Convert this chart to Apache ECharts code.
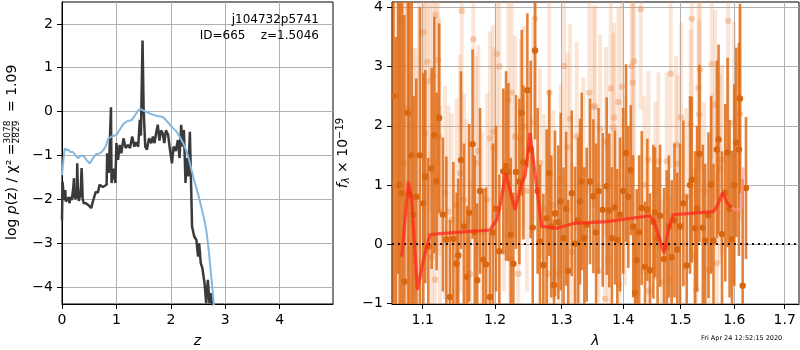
<!DOCTYPE html>
<html>
<head>
<meta charset="utf-8">
<script src="https://cdn.jsdelivr.net/npm/echarts@6/dist/echarts.min.js"></script>
<style>
  html, body { margin: 0; padding: 0; background: #fff; }
  #chart { width: 800px; height: 350px; }
</style>
</head>
<body>
<div id="chart"></div>
<script>
// ---- left panel: redshift probability ----
const zPz = [0.00, 0.01, 0.02, 0.03, 0.05, 0.06, 0.07, 0.09, 0.11, 0.12, 0.14, 0.15, 0.17, 0.18, 0.20, 0.21, 0.22, 0.23, 0.25, 0.26,
  0.27, 0.28, 0.29, 0.31, 0.33, 0.34, 0.36, 0.37, 0.38, 0.40, 0.44, 0.48,
  0.51, 0.54, 0.57, 0.62, 0.66, 0.69, 0.75, 0.82, 0.83, 0.86, 0.90, 0.91, 0.95, 0.98, 1.00, 1.03, 1.06, 1.09, 1.13, 1.17,
  1.21, 1.25, 1.29, 1.33, 1.36, 1.40, 1.43, 1.45, 1.48, 1.50, 1.53, 1.56, 1.60, 1.64, 1.67, 1.70, 1.73, 1.76, 1.79, 1.82,
  1.85, 1.88, 1.91, 1.95, 1.98, 2.02, 2.05, 2.09, 2.13, 2.16, 2.19, 2.22, 2.24, 2.27, 2.29, 2.32, 2.35, 2.37, 2.39, 2.43,
  2.47, 2.50, 2.52, 2.55, 2.58, 2.60, 2.62, 2.65, 2.68, 2.71, 2.74, 2.77];
const logPz = [-2.48, -1.60, -1.75, -2.02, -1.85, -1.79, -2.05, -2.08, -2.00, -1.95, -2.09, -2.00, -1.95, -2.02, -2.00, -1.70, -1.52, -1.95, -2.00, -1.80,
  -1.98, -1.18, -1.70, -2.04, -1.90, -1.95, -1.29, -1.60, -2.00, -2.09, -2.09, -2.13,
  -2.10, -2.20, -2.04, -1.83, -1.85, -1.67, -1.72, -1.67, -0.95, -1.40, 0.10, -1.63, -1.30, -1.63, -0.72, -1.10, -0.76, -0.95, -0.61, -0.83,
  -0.76, -0.83, -0.57, -0.80, -0.70, -0.80, -0.19, -0.55, 1.62, 0.05, -0.80, -0.87, -0.61, -0.72, -0.57, -0.72, -0.49, -0.30, -0.66, -0.43,
  -0.49, -0.72, -0.43, -0.53, -0.83, -1.18, -0.80, -0.90, -0.65, -1.06, -0.30, -0.80, -0.42, -1.63, -1.06, -1.48, -0.46, -1.55, -2.62, -2.85,
  -2.93, -3.31, -3.00, -3.46, -3.57, -3.60, -3.92, -4.37, -3.84, -4.37, -4.14, -4.50];
const zChi = [0.00, 0.03, 0.05, 0.08, 0.11, 0.15, 0.20, 0.25, 0.30, 0.35, 0.40, 0.45, 0.51, 0.56, 0.63, 0.70, 0.80, 0.85, 0.91, 1.00,
  1.12, 1.20, 1.28, 1.36, 1.43, 1.50, 1.61, 1.75, 1.86, 1.95, 2.01, 2.10, 2.16, 2.25, 2.32, 2.41, 2.53, 2.65, 2.72, 2.79, 2.82];
const logChi = [-1.45, -1.05, -0.84, -0.88, -0.86, -0.92, -0.92, -1.00, -1.06, -1.00, -1.02, -1.10, -1.18, -1.08, -0.97, -0.95, -0.80, -0.62, -0.57, -0.53,
  -0.30, -0.22, -0.19, -0.05, 0.06, 0.02, -0.04, -0.10, -0.13, -0.25, -0.34, -0.45, -0.57, -0.78, -1.03, -1.48, -2.02, -2.70, -3.46, -4.39, -4.80];
const zTicks = [0, 1, 2, 3, 4];
const pzTicks = [-4, -3, -2, -1, 0, 1, 2];

// ---- right panel: spectrum (microns, 1e-19 flux) ----
const waveHi = [1.062, 1.065, 1.068, 1.070, 1.073, 1.076, 1.0805, 1.0825, 1.0855, 1.088, 1.0915, 1.0964, 1.1008, 1.1034, 1.1074, 1.1119, 1.1154, 1.1186, 1.1220, 1.127,
  1.1317, 1.1367, 1.1413, 1.1458, 1.1480, 1.1518, 1.156, 1.1604, 1.1632, 1.1680, 1.171, 1.1745, 1.1785, 1.1832, 1.1870, 1.1927, 1.197, 1.2014, 1.2062, 1.2120,
  1.2160, 1.2194, 1.2229, 1.2267, 1.2306, 1.2356, 1.2391, 1.2416, 1.2475, 1.2525, 1.2556, 1.2591, 1.263, 1.2666, 1.2717, 1.2768, 1.2808, 1.284, 1.2882, 1.2897,
  1.2949, 1.2986, 1.303, 1.307, 1.3103, 1.3159, 1.3212, 1.326, 1.3291, 1.3318, 1.336, 1.3398, 1.3452, 1.3506, 1.355, 1.359, 1.3658, 1.3724, 1.3767, 1.381,
  1.3862, 1.3900, 1.3946, 1.400, 1.4047, 1.4086, 1.4127, 1.417, 1.4200, 1.4229, 1.427, 1.4315, 1.4372, 1.4412, 1.4458, 1.4516, 1.4545, 1.459, 1.4633, 1.4704,
  1.4751, 1.479, 1.4840, 1.489, 1.4939, 1.4989, 1.5049, 1.5110, 1.5171, 1.5202, 1.5263, 1.530, 1.5343, 1.5406, 1.5449, 1.5511, 1.556, 1.5605, 1.5669, 1.5700,
  1.5765, 1.5828, 1.5872, 1.591, 1.5956, 1.600, 1.6039, 1.6090, 1.6110, 1.6162, 1.6227];
const fluxHi = [2.5, -1.5, 4.5, 1.0, 0.86, -0.63, 2.22, 0.84, 1.5, 0.50, 0.8, 1.5, 0.69, 1.14, -0.04, 1.28, 1.84, 1.06, 2.13, 0.5,
  0.08, -0.89, 0.09, -0.33, -0.19, 1.42, 0.3, -0.55, 0.53, 1.69, 0.2, -0.61, 0.9, -0.26, -0.34, -0.89, 0.2, 0.6, -0.12, 1.23,
  1.32, 1.22, 0.16, -0.33, 1.22, 1.06, 2.22, 1.38, 2.60, 1.60, 0.28, 3.27, 0.9, 0.04, -0.35, 0.44, 1.20, 0.3, -0.69, 0.52,
  0.37, 0.72, 0.1, 0.6, -0.45, 0.86, 0.01, 0.4, 0.72, 1.06, 0.1, 0.33, 1.06, 0.81, 0.2, 0.9, 0.58, 0.98, 0.57, 0.1,
  0.62, 0.07, 0.5, 0.9, 1.54, 0.80, 1.25, 0.3, -0.82, -0.27, 0.2, 0.61, -0.38, 0.58, -0.44, 0.38, 0.54, 0.1, 0.48, -0.25,
  -0.05, 0.3, -0.22, 0.4, -0.09, 0.3, 0.69, -0.36, 1.00, 1.09, 0.27, 0.6, 1.53, 0.28, 0.06, 0.49, 1.0, 0.06, 1.60, 1.77,
  0.17, 0.87, 1.55, 0.6, 0.08, 1.0, 1.72, 1.60, 2.46, -0.70, 0.95];
const errHi = [4, 5, 5, 4, 3.5, 4.5, 4, 3.5, 3, 2, 2, 2.5, 2.2, 1.8, 1.5, 1.7, 2.0, 1.5, 1.6, 1.3,
  1.4, 1.3, 1.3, 1.2, 1.3, 1.5, 1.4, 1.2, 1.5, 1.6, 1.3, 1.3, 1.4, 1.2, 1.3, 1.1, 1.5, 1.4, 1.3, 1.4,
  1.6, 1.5, 1.3, 1.2, 1.3, 1.4, 1.4, 1.3, 1.3, 1.5, 1.3, 1.5, 1.4, 1.3, 1.2, 1.5, 1.4, 1.2, 1.1, 1.4,
  1.3, 1.5, 1.2, 1.3, 1.2, 1.4, 1.3, 1.4, 1.4, 1.5, 1.2, 1.3, 1.4, 1.3, 1.5, 1.4, 1.3, 1.5, 1.3, 1.2,
  1.3, 1.2, 1.3, 1.4, 1.5, 1.2, 1.1, 1.2, 1.1, 1.2, 1.3, 1.3, 1.1, 1.2, 1.3, 1.3, 1.1, 1.2, 1.2, 1.2,
  1.3, 1.2, 1.3, 1.3, 1.3, 1.4, 1.4, 1.2, 1.5, 1.4, 1.3, 1.4, 1.5, 1.4, 1.3, 1.4, 1.5, 1.3, 1.5, 1.6,
  1.4, 1.5, 1.6, 1.5, 1.5, 1.7, 1.6, 1.8, 1.6, 1.8, 1.2];

const waveLo = [1.061, 1.067, 1.0724, 1.0751, 1.079, 1.0877, 1.0912, 1.095, 1.1008, 1.1030, 1.1061, 1.1097, 1.1119, 1.1141, 1.1163, 1.1172, 1.1207, 1.1220, 1.1231, 1.1298,
  1.1343, 1.1388, 1.1458, 1.1505, 1.1528, 1.1560, 1.1598, 1.1644, 1.1691, 1.1728, 1.1760, 1.181, 1.1887, 1.1927, 1.1966, 1.1975, 1.2024, 1.2062, 1.213, 1.2194,
  1.2218, 1.2243, 1.2291, 1.2340, 1.2376, 1.2416, 1.247, 1.2565, 1.2591, 1.2666, 1.273, 1.2793, 1.2808, 1.2871, 1.2949, 1.299, 1.3038, 1.3090, 1.3132, 1.3159,
  1.3238, 1.327, 1.3345, 1.3441, 1.3506, 1.3533, 1.3587, 1.3614, 1.3697, 1.3713, 1.3751, 1.3791, 1.3835, 1.3846, 1.3919, 1.393, 1.3976, 1.403, 1.4144, 1.4161,
  1.4184, 1.4298, 1.436, 1.4430, 1.444, 1.455, 1.4604, 1.4662, 1.4751, 1.4810, 1.4822, 1.4918, 1.4941, 1.5007, 1.510, 1.5183, 1.5202, 1.5263, 1.5282, 1.5325,
  1.534, 1.5354, 1.543, 1.5511, 1.5574, 1.558, 1.5634, 1.5669, 1.5728, 1.5765, 1.5883, 1.5995, 1.6110];
const fluxLo = [1.0, 2.5, 3.80, 1.37, 2.3, 0.81, 0.81, 1.5, 3.58, 1.87, 3.08, 2.76, -0.22, 2.85, -0.60, 3.87, 3.11, 1.81, 0.55, 0.87,
  0.55, 0.41, 0.66, 1.20, 3.94, 0.75, 0.41, -0.50, 3.46, 1.37, 1.57, 0.2, 0.75, 1.79, 1.90, 1.63, 3.21, 3.00, 0.9, 2.43,
  -0.25, 2.56, 1.82, -0.50, 1.77, 1.99, 0.9, 2.06, 3.81, 1.37, 0.6, -0.50, 2.56, 0.66, -0.50, 1.1, 3.01, 1.64, 2.12, -0.13,
  1.82, 0.4, 1.22, 2.56, 2.32, 2.33, -0.45, 1.94, -0.92, 1.73, -0.25, 2.63, 1.97, 2.14, 2.40, -0.68, 2.66, 0.9, 3.01, 2.73,
  3.09, 3.97, 1.0, 1.43, -0.79, 0.9, 1.40, -0.64, 1.40, -0.59, 2.88, 1.68, 1.36, 2.14, 0.8, 2.03, 3.81, -0.20, -0.76, 2.64,
  2.19, 2.95, 0.9, -0.43, 3.04, 1.04, 2.36, -0.32, 1.28, 1.42, 3.77, 2.05, 2.20];
const errLo = [4, 4, 3, 3, 3, 2.5, 2.5, 2.8, 2.5, 2.2, 2.3, 2.2, 2, 2.0, 2, 2.2, 2.0, 2.0, 1.8, 1.8,
  1.8, 1.8, 1.8, 2.0, 2.0, 1.8, 1.7, 1.6, 1.8, 1.8, 1.8, 1.7, 1.8, 1.8, 1.8, 1.7, 1.8, 1.8, 1.7, 1.7,
  1.6, 1.7, 1.7, 1.6, 1.7, 1.7, 1.7, 1.7, 1.7, 1.6, 1.6, 1.5, 1.7, 1.6, 1.6, 1.6, 1.7, 1.6, 1.6, 1.5,
  1.6, 1.5, 1.6, 1.7, 1.7, 1.7, 1.5, 1.6, 1.5, 1.6, 1.5, 1.6, 1.6, 1.6, 1.6, 1.5, 1.6, 1.6, 1.6, 1.6,
  1.6, 1.7, 1.5, 1.5, 1.4, 1.5, 1.5, 1.4, 1.5, 1.4, 1.6, 1.5, 1.5, 1.6, 1.5, 1.6, 1.6, 1.5, 1.4, 1.6,
  1.6, 1.7, 1.5, 1.5, 1.6, 1.5, 1.6, 1.5, 1.6, 1.6, 1.7, 1.7, 1.8];

const waveModel = [1.0726, 1.0811, 1.0855, 1.0929, 1.1008, 1.1097, 1.1231, 1.1927, 1.2024, 1.2062, 1.2154, 1.2291, 1.2391, 1.2441, 1.2515, 1.2590, 1.2692, 1.2923, 1.3184, 1.3724,
  1.4458, 1.4519, 1.4632, 1.4703, 1.4777, 1.4868, 1.5170, 1.5602, 1.5681, 1.5778, 1.5867, 1.5950];
const fluxModel = [-0.21, 1.06, 0.75, -0.77, -0.27, 0.16, 0.18, 0.24, 0.41, 0.58, 1.20, 0.58, 1.03, 1.15, 1.88, 1.20, 0.30, 0.27, 0.35, 0.38,
  0.48, 0.41, 0.07, -0.15, 0.24, 0.50, 0.52, 0.55, 0.66, 0.87, 0.69, 0.62];
const waveTail = [1.5950, 1.6014, 1.6134, 1.6177];
const fluxTail = [0.62, 0.58, 0.60, 1.30];
const waveTicks = [1.1, 1.2, 1.3, 1.4, 1.5, 1.6, 1.7];
const fluxTicks = [-1, 0, 1, 2, 3, 4];

const chart = echarts.init(document.getElementById("chart"));

const FONT = "DejaVu Sans";
const GRID_LINE = "#b0b0b0";
const minus = (v) => String(v).replace("-", "\u2212");
const zip = (xs, ys) => xs.map((x, i) => [x, ys[i]]);
const lnZip = (xs, ys) => xs.map((x, i) => [Math.log(x), ys[i]]);

const errorBars = (barColor, dotColor, barWidth, r) => (params, api) => {
  const x = api.value(0);
  const y = api.value(1);
  const e = api.value(2);
  const lo = api.coord([x, y - e]);
  const hi = api.coord([x, y + e]);
  const c = api.coord([x, y]);
  return {
    type: "group",
    children: [
      { type: "line", shape: { x1: lo[0], y1: lo[1], x2: hi[0], y2: hi[1] }, style: { stroke: barColor, lineWidth: barWidth } },
      { type: "circle", shape: { cx: c[0], cy: c[1], r: r }, style: { fill: dotColor } },
    ],
  };
};

const baseAxis = {
  axisLine: { show: true, onZero: false, lineStyle: { color: "#000", width: 1 } },
  axisTick: { show: true, inside: false, length: 5, lineStyle: { color: "#000" } },
  axisLabel: { color: "#000", fontSize: 14, fontFamily: FONT, margin: 9 },
  splitLine: { show: true, lineStyle: { color: GRID_LINE, width: 1 } },
  nameTextStyle: { color: "#000", fontSize: 14, fontFamily: FONT },
};

const option = {
  animation: false,
  backgroundColor: "#fff",
  grid: [
    { left: 62, top: 2, width: 271, height: 302, outerBoundsMode: "none", containLabel: false, show: true, borderColor: "#000", borderWidth: 1, backgroundColor: "transparent" },
    { left: 392, top: 2, width: 407, height: 302, outerBoundsMode: "none", containLabel: false, show: true, borderColor: "#000", borderWidth: 1, backgroundColor: "transparent" },
  ],
  xAxis: [
    {
      ...baseAxis,
      gridIndex: 0,
      type: "value",
      min: 0,
      max: 4.98,
      axisTick: { ...baseAxis.axisTick, customValues: zTicks },
      axisLabel: { ...baseAxis.axisLabel, customValues: zTicks },
      name: "z",
      nameLocation: "middle",
      nameGap: 30,
      nameTextStyle: { ...baseAxis.nameTextStyle, fontStyle: "italic" },
    },
    {
      ...baseAxis,
      gridIndex: 1,
      type: "value",
      min: Math.log(1.0601),
      max: Math.log(1.7295),
      axisTick: { ...baseAxis.axisTick, customValues: waveTicks.map(Math.log) },
      axisLabel: { ...baseAxis.axisLabel, customValues: waveTicks.map(Math.log), formatter: (v) => Math.exp(v).toFixed(1) },
      name: "λ",
      nameLocation: "middle",
      nameGap: 30,
      nameTextStyle: { ...baseAxis.nameTextStyle, fontStyle: "italic" },
    },
  ],
  yAxis: [
    {
      ...baseAxis,
      gridIndex: 0,
      type: "value",
      min: -4.39,
      max: 2.5,
      axisTick: { ...baseAxis.axisTick, customValues: pzTicks },
      axisLabel: { ...baseAxis.axisLabel, customValues: pzTicks, formatter: minus },
    },
    {
      ...baseAxis,
      gridIndex: 1,
      type: "value",
      min: -1.01,
      max: 4.09,
      axisTick: { ...baseAxis.axisTick, customValues: fluxTicks },
      axisLabel: { ...baseAxis.axisLabel, customValues: fluxTicks, formatter: minus },
      name: "{i|f}{s|λ} × 10{p|\u221219}",
      nameLocation: "middle",
      nameRotate: 90,
      nameGap: 38,
      nameTextStyle: {
        ...baseAxis.nameTextStyle,
        rich: {
          i: { fontSize: 14, fontFamily: FONT, fontStyle: "italic", color: "#000" },
          s: { fontSize: 10, fontFamily: FONT, fontStyle: "italic", color: "#000", verticalAlign: "bottom", padding: [6, 0, 0, 0] },
          p: { fontSize: 10, fontFamily: FONT, color: "#000", verticalAlign: "top", padding: [0, 0, 6, 0] },
        },
      },
    },
  ],
  series: [
    {
      name: "p(z)",
      type: "line",
      xAxisIndex: 0,
      yAxisIndex: 0,
      data: zip(zPz, logPz),
      showSymbol: false,
      clip: true,
      lineStyle: { color: "#3a3a3a", width: 2.5 },
      z: 3,
    },
    {
      name: "chi2",
      type: "line",
      xAxisIndex: 0,
      yAxisIndex: 0,
      data: zip(zChi, logChi),
      showSymbol: false,
      clip: true,
      smooth: 0.2,
      lineStyle: { color: "#86b7dd", width: 2 },
      z: 4,
    },
    {
      name: "low weight",
      type: "custom",
      xAxisIndex: 1,
      yAxisIndex: 1,
      clip: true,
      renderItem: errorBars("rgba(240,155,95,0.26)", "rgba(232,150,95,0.45)", 4, 3.2),
      data: waveLo.map((w, i) => [Math.log(w), fluxLo[i], errLo[i]]),
      z: 2,
    },
    {
      name: "spectrum",
      type: "custom",
      xAxisIndex: 1,
      yAxisIndex: 1,
      clip: true,
      renderItem: errorBars("rgba(222,108,24,0.85)", "#d8650f", 2.6, 3.2),
      data: waveHi.map((w, i) => [Math.log(w), fluxHi[i], errHi[i]]),
      z: 3,
    },
    {
      name: "model",
      type: "line",
      xAxisIndex: 1,
      yAxisIndex: 1,
      data: lnZip(waveModel, fluxModel),
      showSymbol: false,
      clip: true,
      lineStyle: { color: "rgba(255,40,25,0.75)", width: 3.2 },
      z: 5,
    },
    {
      name: "model tail",
      type: "line",
      xAxisIndex: 1,
      yAxisIndex: 1,
      data: lnZip(waveTail, fluxTail),
      showSymbol: false,
      clip: true,
      lineStyle: { color: "rgba(255,150,150,0.6)", width: 3.2 },
      z: 5,
      markLine: {
        silent: true,
        symbol: "none",
        label: { show: false },
        lineStyle: { color: "#111", width: 2, type: [2, 4] },
        data: [{ yAxis: 0 }],
      },
    },
  ],
  graphic: [
    {
      type: "text",
      right: 800 - 319,
      top: 14,
      style: { text: "j104732p5741", fontSize: 12, fontFamily: FONT, fill: "#000", textAlign: "right" },
      z: 100,
    },
    {
      type: "text",
      right: 800 - 319,
      top: 30,
      style: { text: "ID=665    z=1.5046", fontSize: 12, fontFamily: FONT, fill: "#000", textAlign: "right" },
      z: 100,
    },
    {
      type: "text",
      left: 701,
      top: 335,
      style: { text: "Fri Apr 24 12:52:15 2020", fontSize: 6.5, fontFamily: FONT, fill: "#000" },
      z: 100,
    },
    {
      type: "group",
      x: 12.5,
      y: 240,
      rotation: Math.PI / 2,
      children: [
        {
          type: "text",
          x: 0,
          y: 0,
          style: {
            text: "log {i|p}(z) / χ² =",
            fontSize: 14,
            fontFamily: FONT,
            fill: "#000",
            textVerticalAlign: "middle",
            rich: { i: { fontSize: 14, fontFamily: FONT, fontStyle: "italic", fill: "#000" } },
          },
        },
        { type: "text", x: 108, y: -4.8, style: { text: "3078", fontSize: 9, fontFamily: FONT, fill: "#000", textAlign: "center", textVerticalAlign: "middle" } },
        { type: "line", shape: { x1: 97, y1: -0.3, x2: 119, y2: -0.3 }, style: { stroke: "#000", lineWidth: 0.7 } },
        { type: "text", x: 108, y: 4.6, style: { text: "2829", fontSize: 9, fontFamily: FONT, fill: "#000", textAlign: "center", textVerticalAlign: "middle" } },
        { type: "text", x: 128, y: 0, style: { text: "= 1.09", fontSize: 14, fontFamily: FONT, fill: "#000", textVerticalAlign: "middle" } },
      ],
    },
  ],
};

chart.setOption(option);
window.addEventListener("resize", () => chart.resize());
</script>
</body>
</html>
